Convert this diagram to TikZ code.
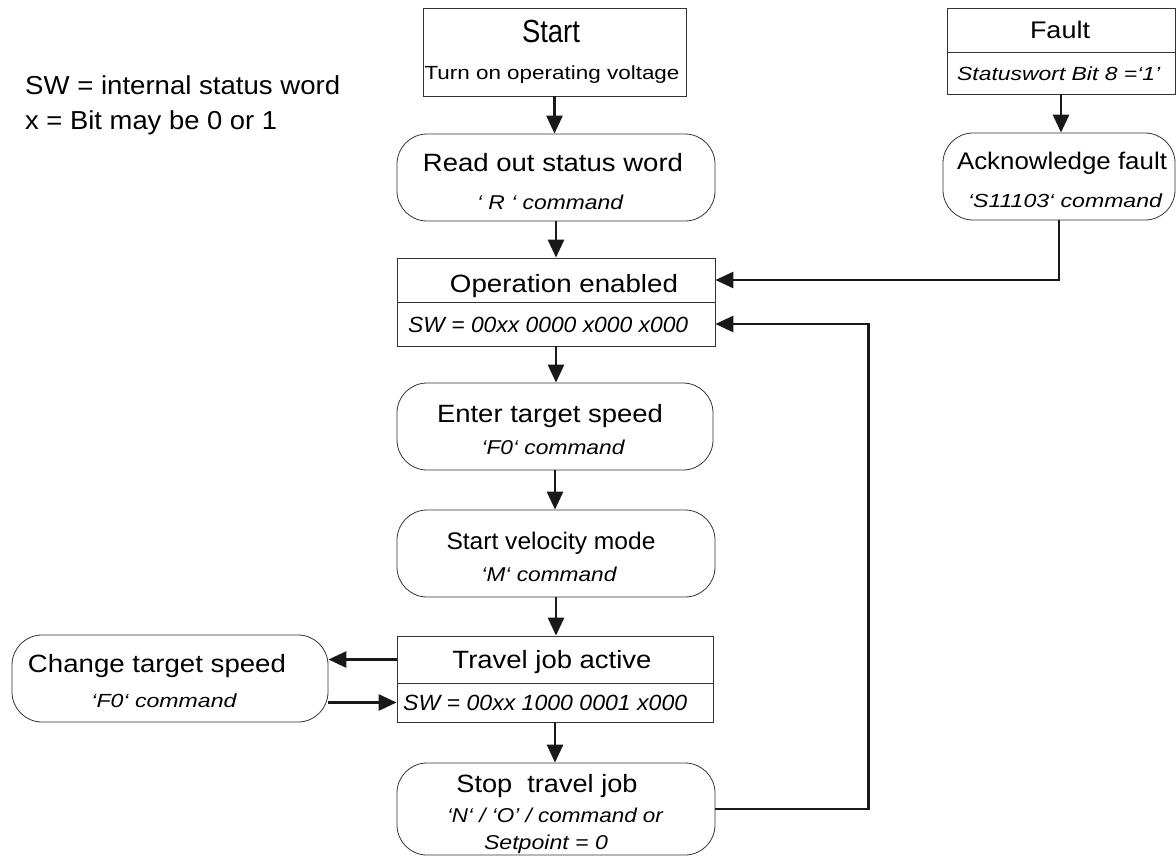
\documentclass[tikz,border=0pt]{standalone}
\usepackage{fontspec}
\setmainfont{Liberation Sans}
\usepackage{graphicx}
\usetikzlibrary{arrows.meta}
\newcommand{\fw}[2]{\resizebox{#1pt}{\height}{#2}}
\newcommand{\fsz}[1]{\fontsize{#1}{#1}\selectfont}
\begin{document}
\begin{tikzpicture}[x=1pt,y=-1pt,
  sqbox/.style={draw=black!80, line width=0.8pt, rectangle, inner sep=0pt},
  rbox/.style={draw=black!80, line width=0.8pt, rectangle, rounded corners=30pt, inner sep=0pt},
  txt/.style={inner sep=0pt, anchor=base},
  txtl/.style={inner sep=0pt, anchor=base west},
  arr/.style={line width=2.8pt, draw=black!90, -{Triangle[length=18pt,width=16pt]}}]
\useasboundingbox (0,0) rectangle (1176,857);
% legend
\node[txtl] (lg1) at (25,94) {\fsz{26}\fw{315}{SW = internal status word}};
\node[txtl] (lg2) at (25,129) {\fsz{26}\fw{252}{x = Bit may be 0 or 1}};
% boxes
\node[sqbox, minimum width=263, minimum height=88] (start) at (554.5,52) {};
\node[rbox, minimum width=318, minimum height=87] (read) at (556,177.5) {};
\node[sqbox, minimum width=318, minimum height=44] (opA) at (556,280) {};
\node[sqbox, minimum width=318, minimum height=44] (opB) at (556,324) {};
\node[rbox, minimum width=316, minimum height=87] (enter) at (555,426.5) {};
\node[rbox, minimum width=318, minimum height=87] (velo) at (556,553.5) {};
\node[sqbox, minimum width=316, minimum height=47] (trA) at (555,659.5) {};
\node[sqbox, minimum width=316, minimum height=39] (trB) at (555,702.5) {};
\node[rbox, minimum width=318, minimum height=92] (stop) at (556,809) {};
\node[sqbox, minimum width=228, minimum height=44] (fA) at (1061,30) {};
\node[sqbox, minimum width=228, minimum height=42] (fB) at (1061,73) {};
\node[rbox, minimum width=232, minimum height=87] (ack) at (1059,176.5) {};
\node[rbox, minimum width=316, minimum height=87] (change) at (170,678.5) {};
% texts
\node[txt] (t1) at (551,42.5) {\fsz{32}\fw{58}{Start}};
\node[txt] (t2) at (552,79) {\fsz{19}\fw{255}{Turn on operating voltage}};
\node[txt] (t3) at (553,171) {\fsz{25}\fw{260}{Read out status word}};
\node[txt] (t4) at (550,209) {\fsz{20}\itshape\fw{146}{‘ R ‘ command}};
\node[txt] (t5) at (564,292) {\fsz{25}\fw{228}{Operation enabled}};
\node[txtl] (t6) at (408,332) {\fsz{22}\itshape\fw{280}{SW = 00xx 0000 x000 x000}};
\node[txt] (t7) at (550,422) {\fsz{25}\fw{226}{Enter target speed}};
\node[txt] (t8) at (553,454) {\fsz{20}\itshape\fw{143}{‘F0‘ command}};
\node[txt] (t9) at (551,549) {\fsz{24}\fw{209}{Start velocity mode}};
\node[txt] (t10) at (549,581) {\fsz{20}\itshape\fw{135}{‘M‘ command}};
\node[txt] (t11) at (552,668) {\fsz{25}\fw{199}{Travel job active}};
\node[txtl] (t12) at (403,710) {\fsz{22}\itshape\fw{284}{SW = 00xx 1000 0001 x000}};
\node[txt] (t13) at (547,792) {\fsz{25}\fw{181}{Stop\ \ travel job}};
\node[txt] (t14) at (555,822) {\fsz{20}\itshape\fw{216}{‘N‘ / ‘O’ / command or}};
\node[txt] (t15) at (546,849) {\fsz{20}\itshape\fw{124}{Setpoint = 0}};
\node[txt] (t16) at (1060,38) {\fsz{24}\fw{60}{Fault}};
\node[txtl] (t17) at (957,80) {\fsz{19}\itshape\fw{203}{Statuswort Bit 8 =‘1’}};
\node[txt] (t18) at (1062,169) {\fsz{24}\fw{210}{Acknowledge fault}};
\node[txt] (t19) at (1065,207) {\fsz{19}\itshape\fw{194}{‘S11103‘ command}};
\node[txt] (t20) at (157,672) {\fsz{25}\fw{258}{Change target speed}};
\node[txt] (t21) at (164,707) {\fsz{19}\itshape\fw{145}{‘F0‘ command}};
% connectors
\draw[arr] (start.south) -- (start.south |- read.north);
\draw[arr] (read.south) -- (read.south |- opA.north);
\draw[arr] (opB.south) -- (opB.south |- enter.north);
\draw[arr] (enter.south) -- (enter.south |- velo.north);
\draw[arr] (velo.south) -- (velo.south |- trA.north);
\draw[arr] (trB.south) -- (trB.south |- stop.north);
\draw[arr] (fB.south) -- (fB.south |- ack.north);
\draw[arr] (ack.south) |- (opA.east);
\draw[arr] (stop.east) -- ++(153,0) |- (opB.east);
\draw[arr] (trA.west) -- (trA.west -| change.east);
\draw[arr] (change.east |- trB.west) -- (trB.west);
\end{tikzpicture}
\end{document}
